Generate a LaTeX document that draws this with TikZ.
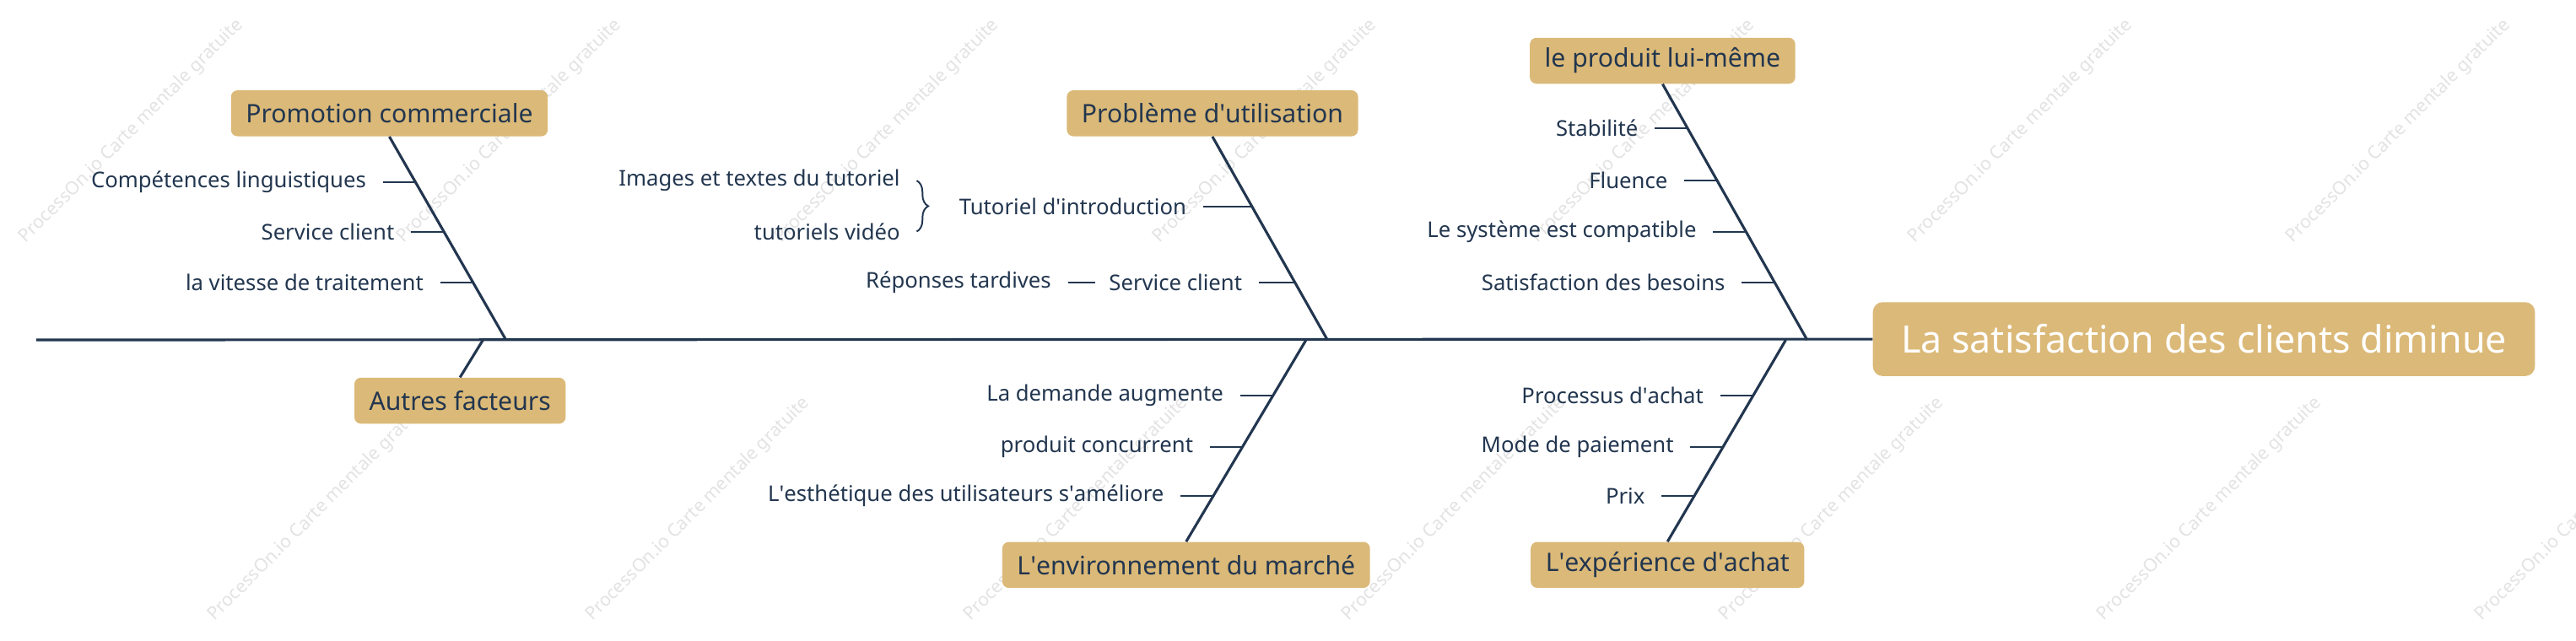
\documentclass[tikz,border=0pt]{standalone}
\usepackage{fontspec}
\setmainfont{Noto Sans}
\usetikzlibrary{decorations.pathreplacing,calc}
\definecolor{bone}{HTML}{22364F}
\definecolor{boxc}{HTML}{DBB978}
\newcommand{\q}{\textquotesingle}
\tikzset{
  bonel/.style={draw=bone,line width=1.6pt},
  tickl/.style={draw=bone,line width=1pt},
  lab/.style={text=bone,font=\fontsize{13.2}{15}\selectfont,anchor=east,inner sep=0pt},
  cat/.style={fill=boxc,rounded corners=4pt,text=bone,font=\fontsize{15.5}{18}\selectfont,minimum height=28pt,inner xsep=9pt,inner ysep=0pt},
  wm/.style={text=black!11,font=\fontsize{11}{13}\selectfont,rotate=45}
}
% \bonetick{name}{topx}{topy}{botx}{boty}{y}{ticklen}{gap}{label}
\newcommand{\bonetick}[9]{%
  \pgfmathsetmacro{\bx}{#2+(#6-#3)*(#4-#2)/(#5-#3)}%
  \coordinate (#1e) at (\bx,#6);
  \coordinate (#1s) at (\bx-#7,#6);
  \draw[tickl] (#1s) -- (#1e);
  \node[lab] (#1) at (\bx-#7-#8,#6) {#9};
}
\begin{document}
\begin{tikzpicture}[x=1pt,y=-1pt]
\useasboundingbox[fill=white] (0,0) rectangle (1568,390);
% watermarks
\foreach \x in {80,310,540,770,1000,1230,1460}{
  \node[wm] (w1\x) at (\x,80) {ProcessOn.io Carte mentale gratuite};
  \node[wm] (w2\x) at (\x+115,310) {ProcessOn.io Carte mentale gratuite};
}
% spine
\node[fill=boxc,rounded corners=6pt,text=white,font=\fontsize{23}{26}\selectfont,minimum height=45pt,minimum width=403pt,inner sep=0pt] (head) at (1341.5,206.5) {La satisfaction des clients diminue};
\coordinate (tail) at (22,207);
\draw[bonel] (tail) -- (head.west);
% Promotion commerciale
\node[cat] (pc) at (237,69) {Promotion commerciale};
\coordinate (pcb) at (308,207);
\draw[bonel] (pc.south) -- (pcb);
\bonetick{pc1}{237}{83}{308}{207}{111}{20}{10}{Compétences linguistiques}
\bonetick{pc2}{237}{83}{308}{207}{141}{20}{10}{Service client}
\bonetick{pc3}{237}{83}{308}{207}{172}{20}{10}{la vitesse de traitement}
% Autres facteurs
\node[cat] (af) at (280,244) {Autres facteurs};
\coordinate (afb) at (294,207);
\draw[bonel] (afb) -- (af.north);
% Problème d'utilisation
\node[cat] (pu) at (738,69) {Problème d\q utilisation};
\coordinate (pub) at (808,207);
\draw[bonel] (pu.south) -- (pub);
\bonetick{pu1}{738}{83}{808}{207}{126}{30}{10}{Tutoriel d\q introduction}
\bonetick{pu2}{738}{83}{808}{207}{172}{22}{10}{Service client}
\node[lab] (pu11) at (548,110) {Images et textes du tutoriel};
\node[lab] (pu12) at (548,141) {tutoriels vidéo};
\coordinate (bra) at (558,110);
\coordinate (brb) at (558,141);
\draw[tickl,decorate,decoration={brace,amplitude=7pt}] (bra) -- (brb);
\node[lab] (pu21) at (640,172) {Réponses tardives};
\draw[tickl] ($(pu21.east)+(10,0)$) -- ($(pu2.west)+(-8,0)$);
% le produit lui-même
\node[cat] (lp) at (1012,37) {le produit lui-même};
\coordinate (lpb) at (1100,207);
\draw[bonel] (lp.south) -- (lpb);
\bonetick{lp1}{1012}{51}{1100}{207}{78}{20}{10}{Stabilité}
\bonetick{lp2}{1012}{51}{1100}{207}{110}{20}{10}{Fluence}
\bonetick{lp3}{1012}{51}{1100}{207}{141}{20}{10}{Le système est compatible}
\bonetick{lp4}{1012}{51}{1100}{207}{172}{20}{10}{Satisfaction des besoins}
% L'environnement du marché
\node[cat] (em) at (722,344) {L\q environnement du marché};
\coordinate (emb) at (795,207);
\draw[bonel] (emb) -- (em.north);
\bonetick{em1}{795}{207}{722}{330}{241}{20}{10}{La demande augmente}
\bonetick{em2}{795}{207}{722}{330}{272}{20}{10}{produit concurrent}
\bonetick{em3}{795}{207}{722}{330}{302}{20}{10}{L\q esthétique des utilisateurs s\q améliore}
% L'expérience d'achat
\node[cat] (ea) at (1015,344) {L\q expérience d\q achat};
\coordinate (eab) at (1087,207);
\draw[bonel] (eab) -- (ea.north);
\bonetick{ea1}{1087}{207}{1015}{330}{241}{20}{10}{Processus d\q achat}
\bonetick{ea2}{1087}{207}{1015}{330}{272}{20}{10}{Mode de paiement}
\bonetick{ea3}{1087}{207}{1015}{330}{302}{20}{10}{Prix}
\end{tikzpicture}
\end{document}
